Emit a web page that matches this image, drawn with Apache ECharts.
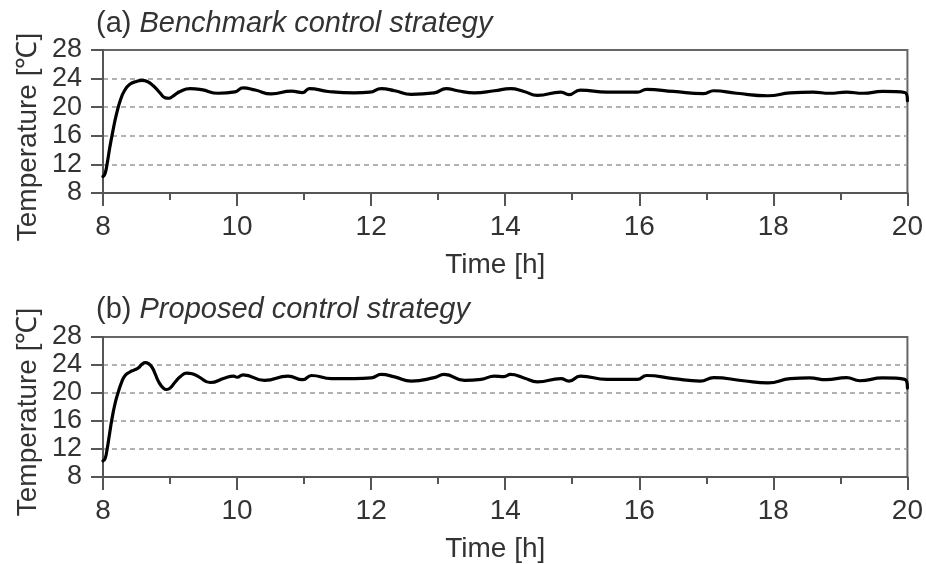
<!DOCTYPE html>
<html>
<head>
<meta charset="utf-8">
<script src="https://cdn.jsdelivr.net/npm/echarts@6/dist/echarts.min.js"></script>
<style>
  html, body { margin: 0; padding: 0; background: #fff; }
  #chart { width: 926px; height: 564px; }
</style>
</head>
<body>
<div id="chart"></div>
<script>
// (a) benchmark control strategy
var timeA = [8.0, 8.03, 8.06, 8.1, 8.15, 8.2, 8.26, 8.32, 8.4, 8.5, 8.58, 8.66, 8.75, 8.85, 8.93, 8.98,
  9.05, 9.15, 9.3, 9.47, 9.72, 9.97, 10.09, 10.27, 10.51, 10.81, 10.98, 11.08, 11.36, 11.75, 11.98,
  12.15, 12.35, 12.6, 12.94, 13.12, 13.29, 13.54, 13.84, 14.08, 14.28, 14.48, 14.83, 14.95, 15.12,
  15.52, 15.97, 16.11, 16.51, 16.96, 17.11, 17.45, 17.92, 18.25, 18.59, 18.84, 19.09, 19.34, 19.63,
  19.96, 20.0]
var tempA = [10.3, 10.7, 12.0, 14.3, 16.8, 19.0, 21.0, 22.3, 23.2, 23.6, 23.75, 23.6, 23.0, 22.0, 21.3, 21.25,
  21.6, 22.2, 22.6, 22.45, 21.95, 22.15, 22.7, 22.4, 21.85, 22.25, 22.05, 22.6, 22.2, 22.0, 22.1,
  22.6, 22.3, 21.8, 22.0, 22.6, 22.3, 22.0, 22.3, 22.6, 22.2, 21.65, 22.1, 21.75, 22.4,
  22.1, 22.1, 22.5, 22.2, 21.9, 22.3, 21.95, 21.6, 22.0, 22.1, 21.95, 22.1, 21.95, 22.2,
  22.05, 20.9]

// (b) proposed control strategy
var timeB = [8.0, 8.03, 8.06, 8.1, 8.13, 8.18, 8.23, 8.28, 8.33, 8.4, 8.47, 8.53, 8.58, 8.63, 8.68, 8.73,
  8.78, 8.83, 8.9, 8.95, 9.0, 9.08, 9.16, 9.25, 9.33, 9.43, 9.6, 9.82, 9.95, 10.0, 10.09, 10.41,
  10.76, 10.98, 11.11, 11.41, 11.75, 12.0, 12.15, 12.35, 12.6, 12.94, 13.09, 13.39, 13.64, 13.84,
  13.98, 14.08, 14.28, 14.48, 14.83, 14.95, 15.12, 15.52, 15.97, 16.11, 16.51, 16.91, 17.11, 17.55,
  17.92, 18.25, 18.54, 18.79, 19.09, 19.29, 19.63, 19.96, 20.0]
var tempB = [10.3, 10.6, 11.9, 14.3, 16.1, 18.5, 20.2, 21.6, 22.5, 23.0, 23.3, 23.6, 24.1, 24.35, 24.2, 23.7,
  22.7, 21.6, 20.7, 20.5, 20.7, 21.6, 22.4, 22.85, 22.75, 22.3, 21.5, 22.15, 22.4, 22.25, 22.6, 21.8,
  22.4, 21.9, 22.5, 22.05, 22.05, 22.15, 22.65, 22.3, 21.7, 22.2, 22.65, 21.8, 21.95, 22.4,
  22.35, 22.65, 22.15, 21.6, 22.05, 21.7, 22.4, 21.95, 21.95, 22.5, 22.05, 21.7, 22.2, 21.75,
  21.45, 22.05, 22.15, 21.9, 22.2, 21.75, 22.15, 21.95, 20.7]

var titles = ['Benchmark control strategy', 'Proposed control strategy']
var tags = ['(a) ', '(b) ']

var font = "'Liberation Sans', Arial, sans-serif"
var textColor = '#333'

function pairs(xs, ys) {
  return xs.map(function (x, i) { return [x, ys[i]] })
}

var grids = [
  { left: 103, top: 50, width: 809, height: 143 },
  { left: 103, top: 337, width: 809, height: 145 }
]

var option = {
  backgroundColor: '#fff',
  animation: false,
  title: [0, 1].map(function (i) {
    return {
      text: '{n|' + tags[i] + '}{it|' + titles[i] + '}',
      left: 96,
      top: i === 0 ? 9 : 295,
      padding: 0,
      textStyle: {
        fontWeight: 'normal',
        rich: {
          n: { fontFamily: font, fontSize: 29, fontWeight: 'normal', color: textColor },
          it: { fontFamily: font, fontSize: 29, fontWeight: 'normal', fontStyle: 'italic', color: textColor }
        }
      }
    }
  }),
  grid: grids.map(function (g) {
    return Object.assign({ show: true, borderColor: '#666', borderWidth: 2, containLabel: false }, g)
  }),
  xAxis: [0, 1].map(function (i) {
    return {
      type: 'value',
      gridIndex: i,
      min: 8,
      max: 20,
      interval: 2,
      name: 'Time [h]',
      nameLocation: 'middle',
      nameGap: 58,
      nameTextStyle: { fontFamily: font, fontSize: 28, color: textColor, padding: [0, 20, 0, 0] },
      axisLine: { show: true, lineStyle: { color: '#555', width: 2 } },
      axisTick: { show: true, inside: false, length: 13, lineStyle: { color: '#555', width: 2 } },
      minorTick: { show: true, splitNumber: 2, length: 7, lineStyle: { color: '#555', width: 2 } },
      axisLabel: { fontFamily: font, fontSize: 28, color: textColor, margin: 20 },
      splitLine: { show: false }
    }
  }),
  yAxis: [0, 1].map(function (i) {
    return {
      type: 'value',
      gridIndex: i,
      min: 8,
      max: 28,
      interval: 4,
      axisLine: { show: true, lineStyle: { color: '#555', width: 2 } },
      axisTick: { show: true, inside: false, length: 12, lineStyle: { color: '#555', width: 2 } },
      axisLabel: { fontFamily: font, fontSize: 27, color: textColor, margin: 21 },
      splitLine: {
        show: true,
        showMinLine: false,
        showMaxLine: false,
        lineStyle: { color: '#999', width: 1.5, type: [5, 4] }
      }
    }
  }),
  graphic: [137, 412].map(function (cy) {
    return {
      type: 'text',
      x: 28,
      y: cy,
      rotation: Math.PI / 2,
      style: {
        text: 'Temperature [℃]',
        font: '28px ' + font,
        fill: textColor,
        textAlign: 'center',
        textVerticalAlign: 'middle'
      }
    }
  }),
  series: [
    {
      type: 'line',
      xAxisIndex: 0,
      yAxisIndex: 0,
      data: pairs(timeA, tempA),
      smooth: 0.5,
      symbol: 'none',
      lineStyle: { color: '#000', width: 3.2, join: 'round', cap: 'round' }
    },
    {
      type: 'line',
      xAxisIndex: 1,
      yAxisIndex: 1,
      data: pairs(timeB, tempB),
      smooth: 0.5,
      symbol: 'none',
      lineStyle: { color: '#000', width: 3.2, join: 'round', cap: 'round' }
    }
  ]
}

var myChart = echarts.init(document.getElementById('chart'))
myChart.setOption(option)
window.addEventListener('resize', function () {
  myChart.resize()
})
</script>
</body>
</html>
